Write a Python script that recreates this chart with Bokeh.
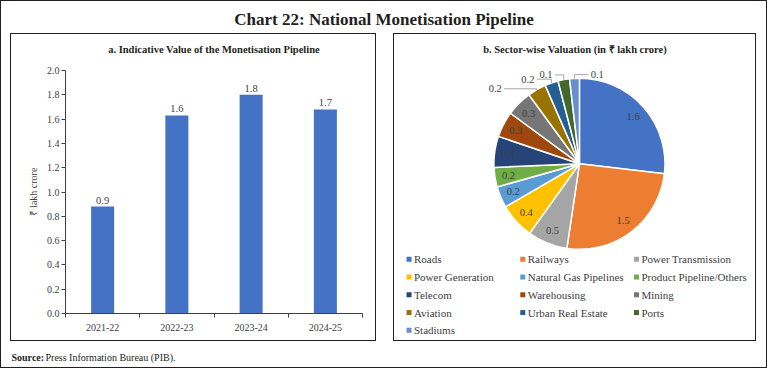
import numpy as np
from bokeh.plotting import figure
from bokeh.models import Range1d, FixedTicker, PrintfTickFormatter, ColumnDataSource, Spacer
from bokeh.layouts import column, row
from bokeh.core.properties import value
from bokeh.embed import file_html
from bokeh.resources import INLINE

# ---------------- data ----------------
years = ["2021-22", "2022-23", "2023-24", "2024-25"]
pipeline_value = [0.88, 1.63, 1.80, 1.68]
y_ticks = [0.0, 0.2, 0.4, 0.6, 0.8, 1.0, 1.2, 1.4, 1.6, 1.8, 2.0]

sectors = ["Roads", "Railways", "Power Transmission", "Power Generation",
           "Natural Gas Pipelines", "Product Pipeline/Others", "Telecom",
           "Warehousing", "Mining", "Aviation", "Urban Real Estate", "Ports", "Stadiums"]
sector_value = [1.60, 1.52, 0.45, 0.40, 0.24, 0.22, 0.35, 0.29, 0.29, 0.21, 0.15, 0.13, 0.11]
sector_label = ["1.6", "1.5", "0.5", "0.4", "0.2", "0.2", "0.4", "0.3", "0.3", "0.2", "0.2", "0.1", "0.1"]
sector_color = ["#4472C4", "#ED7D31", "#A5A5A5", "#FFC000", "#5B9BD5", "#70AD47", "#264478",
                "#9E480E", "#767676", "#997300", "#255E91", "#43682B", "#698ED0"]

# ---------------- styles ----------------
SERIF = "Liberation Serif"
TXT = "#404040"
DARK = "#231F20"
BORDER = {"border": "1px solid #231F20"}


def blank(w, h, xr, yr):
    f = figure(width=w, height=h, x_range=Range1d(*xr), y_range=Range1d(*yr),
               x_axis_type=None, y_axis_type=None, min_border=0,
               toolbar_location=None, output_backend="svg")
    f.outline_line_color = None
    f.grid.visible = False
    return f


# ---------------- main title ----------------
OW = 765
title_fig = blank(OW, 32, (0, OW), (0, 32))
title_fig.text(x=[OW / 2], y=[14], text=["Chart 22: National Monetisation Pipeline"],
               text_align="center", text_baseline="middle", text_font=value(SERIF),
               text_font_size="17px", text_font_style="bold", text_color=DARK)

# ---------------- left panel ----------------
LW = 364
lt = blank(LW, 30, (0, LW), (0, 30))
lt.text(x=[LW / 2], y=[15], text=["a. Indicative Value of the Monetisation Pipeline"],
        text_align="center", text_baseline="middle", text_font=value(SERIF),
        text_font_size="10.5px", text_font_style="bold", text_color=DARK)

chart = figure(width=LW, height=276, x_range=Range1d(0, len(years)), y_range=Range1d(0, 2.0),
               min_border_left=54, min_border_right=13, min_border_top=6, min_border_bottom=27,
               toolbar_location=None, output_backend="svg")
chart.outline_line_color = None
chart.grid.visible = False
xs = [i + 0.5 for i in range(len(years))]
src = ColumnDataSource(dict(x=xs, top=pipeline_value, lab=[f"{v:.1f}" for v in pipeline_value]))
chart.vbar(x="x", top="top", width=0.31, bottom=0, source=src, fill_color="#4472C4", line_color=None)
chart.text(x="x", y="top", text="lab", source=src, y_offset=-3, text_align="center",
           text_baseline="bottom", text_font=value(SERIF), text_font_size="10.5px", text_color=TXT)

xa = chart.xaxis[0]
xa.ticker = FixedTicker(ticks=xs, minor_ticks=list(range(len(years) + 1)))
xa.major_label_overrides = {x: y for x, y in zip(xs, years)}
xa.major_tick_line_color = None
xa.minor_tick_line_color = TXT
xa.minor_tick_in = 0
xa.minor_tick_out = 4
xa.major_label_standoff = 4
ya = chart.yaxis[0]
ya.ticker = FixedTicker(ticks=y_ticks)
ya.formatter = PrintfTickFormatter(format="%.1f")
ya.major_tick_in = 0
ya.major_tick_out = 4
ya.major_tick_line_color = TXT
ya.minor_tick_line_color = None
ya.major_label_standoff = 2
ya.axis_label = "₹ lakh crore"
ya.axis_label_standoff = 5
ya.axis_label_text_font = SERIF
ya.axis_label_text_font_size = "10px"
ya.axis_label_text_font_style = "normal"
ya.axis_label_text_color = TXT
for ax in (xa, ya):
    ax.axis_line_color = TXT
    ax.major_label_text_font = SERIF
    ax.major_label_text_font_size = "10px"
    ax.major_label_text_color = TXT

left_panel = column(lt, chart, styles=BORDER)

# ---------------- right panel (pie) ----------------
RW, RH = 361, 306
# coordinates in the reference panel's pixel units (y measured upward)
PW, PH = 367, 312
pie = blank(RW, RH, (1, PW - 1), (1, PH - 1))
pie.text(x=[PW / 2], y=[PH - 16], text=["b. Sector-wise Valuation (in ₹ lakh crore)"],
         text_align="center", text_baseline="middle", text_font=value(SERIF),
         text_font_size="10.5px", text_font_style="bold", text_color=DARK)

cx, cy, R = 188.0, PH - 132.0, 86.5
vals = np.array(sector_value)
cum = np.concatenate([[0.0], np.cumsum(vals / vals.sum())])
start = np.pi / 2 - 2 * np.pi * cum[:-1]
end = np.pi / 2 - 2 * np.pi * cum[1:]
mid = (start + end) / 2
psrc = ColumnDataSource(dict(start=start, end=end, color=sector_color))
pie.wedge(x=cx, y=cy, radius=R, start_angle="start", end_angle="end", direction="clock",
          fill_color="color", line_color="white", line_width=1.5, source=psrc)

# labels: small slices get an outside label with a leader line
outer_offset = {"Aviation": (-42, 1), "Urban Real Estate": (-24, 4), "Ports": (-18, 5), "Stadiums": (23, 4)}
lx, ly, lt_txt = [], [], []
lead_xs, lead_ys = [], []
for i, s in enumerate(sectors):
    if s in outer_offset:
        ex, ey = cx + R * np.cos(mid[i]), cy + R * np.sin(mid[i])
        dx, dy = outer_offset[s]
        px, py = ex + dx, ey + dy
        near = px + 9 if dx < 0 else px - 9
        lead_xs.append([near, ex, ex])
        lead_ys.append([py, py, ey])
    else:
        px, py = cx + 0.84 * R * np.cos(mid[i]), cy + 0.84 * R * np.sin(mid[i])
    lx.append(px)
    ly.append(py)
    lt_txt.append(sector_label[i])
pie.multi_line(xs=lead_xs, ys=lead_ys, line_color="#A6A6A6", line_width=1)
pie.text(x=lx, y=ly, text=lt_txt, text_align="center", text_baseline="middle",
         text_font=value(SERIF), text_font_size="10.5px", text_color=TXT)

# legend (3 columns)
LX0, LDX, LY0, LDY = 15.7, 115.0, 228.7, 18.0
mx = [LX0 + LDX * (i % 3) for i in range(len(sectors))]
my = [PH - (LY0 + LDY * (i // 3)) for i in range(len(sectors))]
pie.scatter(x=mx, y=my, marker="square", size=5, fill_color=sector_color, line_color=None)
pie.text(x=[m + 5 for m in mx], y=my, text=sectors, text_align="left", text_baseline="middle",
         text_font=value(SERIF), text_font_size="11px", text_color=TXT)

right_panel = column(pie, styles=BORDER)

# ---------------- source ----------------
source_fig = blank(OW, 26, (0, OW), (0, 26))
source_fig.text(x=[10], y=[10], text=["Source:"], text_align="left", text_baseline="middle",
                text_font=value(SERIF), text_font_size="10px", text_font_style="bold", text_color=DARK)
source_fig.text(x=[44], y=[10], text=["Press Information Bureau (PIB)."], text_align="left",
                text_baseline="middle", text_font=value(SERIF), text_font_size="10px", text_color=DARK)

mid_row = row(Spacer(width=9, height=308), left_panel, Spacer(width=17, height=308),
              right_panel, Spacer(width=10, height=308))
page = column(title_fig, mid_row, source_fig, styles=BORDER)

open("out.html", "w").write(file_html(page, INLINE))
